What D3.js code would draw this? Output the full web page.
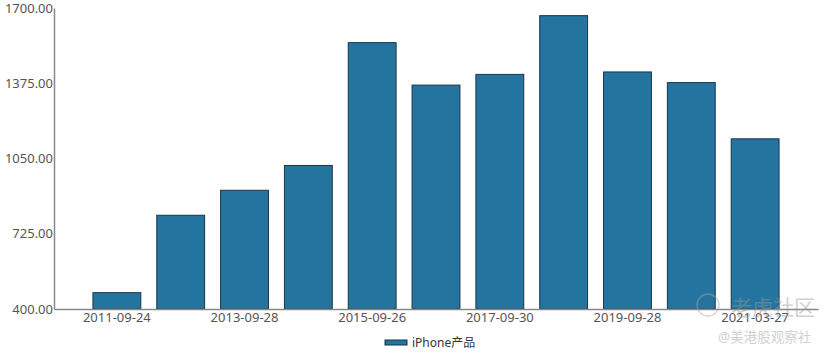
<!DOCTYPE html>
<html>
<head>
<meta charset="utf-8">
<script src="https://cdn.jsdelivr.net/npm/d3@7"></script>
<style>
  body { margin: 0; background: #fff; }
  svg text { font-family: "Noto Sans", "Noto Sans CJK SC", sans-serif; }
</style>
</head>
<body>
<svg id="chart" width="830" height="355"></svg>
<script>
// data
const categories = ["2011-09-24", "2012-09-29", "2013-09-28", "2014-09-27", "2015-09-26",
                    "2016-09-24", "2017-09-30", "2018-09-29", "2019-09-28", "2020-09-26", "2021-03-27"];
const iphoneValues = [470.6, 804.8, 912.8, 1019.9, 1550.4, 1367.0, 1413.2, 1667.0, 1423.8, 1377.8, 1135.0];
const yTicks = [400, 725, 1050, 1375, 1700];
const xLabels = ["2011-09-24", "2013-09-28", "2015-09-26", "2017-09-30", "2019-09-28", "2021-03-27"];
const seriesName = "iPhone产品";

const svg = d3.select("#chart");
const plotLeft = 54, plotRight = 818, plotTop = 8, plotBottom = 309;
const barColor = "#23759f";

const x = d3.scaleBand().domain(categories).range([plotLeft, plotRight])
    .paddingInner(0.25).paddingOuter(0.61);
const y = d3.scaleLinear().domain([400, 1700]).range([plotBottom, plotTop]);

// bars
svg.append("g").selectAll("rect")
    .data(categories)
    .enter().append("rect")
    .attr("x", d => x(d))
    .attr("y", (d, i) => y(iphoneValues[i]))
    .attr("width", x.bandwidth())
    .attr("height", (d, i) => plotBottom - y(iphoneValues[i]))
    .attr("fill", barColor)
    .attr("stroke", "#1b3447")
    .attr("stroke-width", 1);

// y axis
const yAxis = svg.append("g")
    .attr("transform", "translate(" + plotLeft + ",0)")
    .call(d3.axisLeft(y).tickValues(yTicks).tickFormat(d3.format(".2f")).tickSize(0).tickPadding(1));
yAxis.select(".domain").attr("stroke", "#888").attr("stroke-width", 1.5);
yAxis.selectAll("text").attr("fill", "#555").style("font-size", "13px");

// x axis
const xAxis = svg.append("g")
    .attr("transform", "translate(0," + plotBottom + ")")
    .call(d3.axisBottom(x).tickValues(xLabels).tickSize(0).tickPadding(4));
xAxis.select(".domain").attr("stroke", "#888").attr("stroke-width", 1.5);
xAxis.selectAll("text").attr("fill", "#555").style("font-size", "13px");

// legend
const legend = svg.append("g").attr("transform", "translate(385,340)");
legend.append("rect")
    .attr("width", 22).attr("height", 5)
    .attr("fill", barColor).attr("stroke", "#1b3447");
legend.append("text")
    .attr("x", 27).attr("y", 3).attr("dy", "0.35em")
    .attr("fill", "#333").style("font-size", "12px")
    .text(seriesName);

// watermark
const wm = svg.append("g").attr("opacity", 0.45);
wm.append("circle").attr("cx", 708).attr("cy", 305).attr("r", 11)
    .attr("fill", "none").attr("stroke", "#aaa").attr("stroke-width", 1.5);
wm.append("text").attr("x", 731).attr("y", 315)
    .attr("fill", "#999").style("font-size", "21px").text("老虎社区");
wm.append("text").attr("x", 718).attr("y", 342)
    .attr("fill", "#999").style("font-size", "13.5px").text("@美港股观察社");
</script>
</body>
</html>
